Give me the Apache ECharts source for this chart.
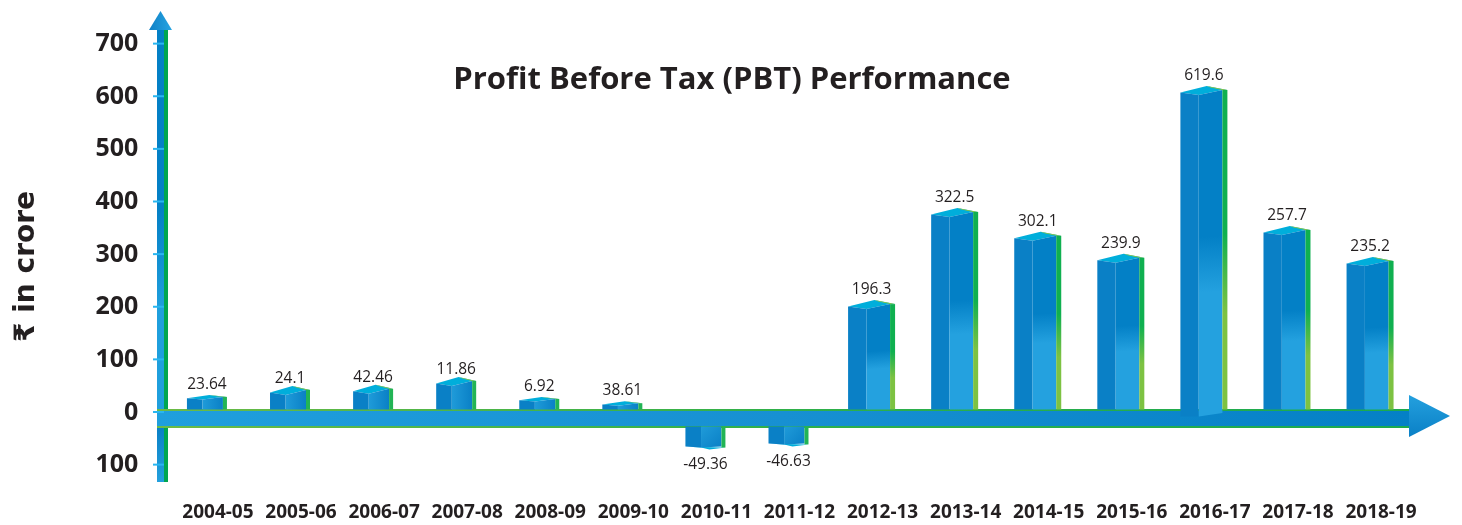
<!DOCTYPE html>
<html>
<head>
<meta charset="utf-8">
<style>html,body{margin:0;padding:0;background:#fff}#main{width:1462px;height:525px}</style>
<script src="https://cdn.jsdelivr.net/npm/echarts@6/dist/echarts.min.js"></script>
</head>
<body>
<div id="main"></div>
<script>
var years = ['2004-05','2005-06','2006-07','2007-08','2008-09','2009-10','2010-11','2011-12','2012-13','2013-14','2014-15','2015-16','2016-17','2017-18','2018-19'];
// the figures printed above the bars
var printed = ['23.64','24.1','42.46','11.86','6.92','38.61','-49.36','-46.63','196.3','322.5','302.1','239.9','619.6','257.7','235.2'];
// the heights the bars are actually drawn at, read against the left axis (they differ from the printed figures)
var heights = [27, 38, 40, 55, 23, 15, -65, -59, 201, 376, 331, 289, 608, 342, 283];
var yTicks = [-100, 0, 100, 200, 300, 400, 500, 600, 700];

var myChart = echarts.init(document.getElementById('main'));

function grad(x, y, x2, y2, stops) {
    return new echarts.graphic.LinearGradient(x, y, x2, y2, stops.map(function(s) {
        return { offset: s[0], color: s[1] };
    }));
}

function renderBar(params, api) {
    var i = api.value(0);
    var h = api.value(1);
    var top = api.coord([i, h]);
    var zero = api.coord([i, 0]);
    var wide = Math.abs(h) > 100;
    var w = wide ? 47 : 40;
    var x0 = top[0] - w / 2;
    var xm = x0 + w * 0.39;
    var xr = x0 + w - (wide ? 5 : 4);
    var xe = x0 + w;
    var kids = [];

    if (h >= 0) {
        var y = top[1];
        var b = zero[1] - 3;
        // the tallest bar runs a little way into the band
        var over = h > 500 ? 7 : 0;
        var k = h < 30 ? 0.5 : 1; // flatter cap on the shortest bars
        var peak = x0 + w * 0.56;
        // top cap
        kids.push({ type: 'polygon', shape: { points: [[x0, y], [peak, y - 6.5 * k], [xe, y - 2.5 * k], [xr, y - 2.5 * k], [xm, y + 2.5 * k]] },
            style: { fill: '#00AEDB' } });
        kids.push({ type: 'polygon', shape: { points: [[peak, y - 6.5 * k], [xe, y - 2.5 * k], [xr, y - 2.5 * k], [peak + 4, y - 5 * k]] },
            style: { fill: '#8CC63F' } });
        // left face
        kids.push({ type: 'polygon', shape: { points: [[x0, y], [xm, y + 2.5 * k], [xm, b + over], [x0, b + over]] },
            style: { fill: '#0A80C6' } });
        // right face, lighter towards the base
        kids.push({ type: 'polygon', shape: { points: [[xm, y + 2.5 * k], [xr, y - 2.5 * k], [xr, b + over / 2], [xm, b + over]] },
            style: { fill: wide ? grad(0, 0, 0.3, 1, [[0, '#0380C6'], [0.45, '#0380C6'], [0.62, '#24A1DF'], [1, '#24A1DF']])
                                : grad(0, 0, 1, 0, [[0, '#1F9BD9'], [1, '#0A80C6']]) } });
        // green side strip
        kids.push({ type: 'polygon', shape: { points: [[xr, y - 2.5 * k], [xe, y - 2.5 * k], [xe, b], [xr, b]] },
            style: { fill: wide ? grad(0, 0, 0, 1, [[0, '#0FB050'], [0.45, '#0FB050'], [0.7, '#7DC242'], [1, '#7DC242']]) : '#22B455' } });
    } else {
        var ty = zero[1] + 14;
        var by = top[1];
        // bottom edge, seen from below
        kids.push({ type: 'polygon', shape: { points: [[x0, by], [xm, by + 1], [x0 + w * 0.6, by + 3], [xe, by + 1], [xr, by + 1]] },
            style: { fill: '#00AEDB' } });
        kids.push({ type: 'polygon', shape: { points: [[x0, ty], [xm, ty], [xm, by + 1], [x0, by]] },
            style: { fill: '#0A80C6' } });
        kids.push({ type: 'polygon', shape: { points: [[xm, ty], [xr, ty], [xr, by], [xm, by + 1]] },
            style: { fill: grad(0, 0, 1, 1, [[0, '#1F9BD9'], [1, '#0A80C6']]) } });
        kids.push({ type: 'polygon', shape: { points: [[xr, ty], [xe, ty], [xe, by + 1], [xr, by + 1]] },
            style: { fill: '#22B455' } });
    }
    kids.push({
        type: 'text',
        style: {
            text: printed[i],
            x: top[0],
            y: h >= 0 ? top[1] - (wide ? 17 : 13.5) : top[1] + 18,
            align: 'center',
            verticalAlign: 'middle',
            font: '15.5px "Open Sans"',
            fill: '#231F20'
        }
    });
    return { type: 'group', children: kids };
}

var option = {
    animation: false,
    title: {
        text: 'Profit Before Tax (PBT) Performance',
        left: 727,
        top: 60,
        textAlign: 'center',
        textStyle: { fontFamily: 'Open Sans', fontWeight: 'bold', fontSize: 31, color: '#231F20' }
    },
    grid: { left: 165.4, right: 50.4, top: 44, bottom: 60 },
    xAxis: {
        type: 'category',
        data: years,
        position: 'bottom',
        axisLine: { show: false },
        axisTick: { show: false },
        axisLabel: {
            interval: 0,
            margin: 38,
            padding: [0, 0, 0, 22],
            fontFamily: 'Open Sans',
            fontWeight: 'bold',
            fontSize: 19,
            color: '#231F20'
        }
    },
    yAxis: {
        type: 'value',
        min: -100,
        max: 700,
        interval: 100,
        name: '₹ in crore',
        nameLocation: 'middle',
        nameGap: 125,
        nameRotate: 90,
        nameTextStyle: { fontFamily: 'DejaVu Sans', fontWeight: 'bold', fontSize: 28, color: '#231F20', padding: [0, 24, 0, 0] },
        splitLine: { show: false },
        axisLine: { show: false },
        axisTick: { show: false },
        axisLabel: {
            margin: 27,
            padding: [4, 0, 0, 0],
            fontFamily: 'Open Sans',
            fontWeight: 'bold',
            fontSize: 25,
            color: '#231F20',
            formatter: function(v) { return String(Math.abs(v)); }
        }
    },
    // the two arrow axes of the original are drawn as decoration
    graphic: [
        { type: 'rect', z: 1, shape: { x: 157, y: 30, width: 7, height: 452 },
          style: { fill: grad(0, 0, 0, 1, [[0, '#0480C6'], [0.4, '#0480C6'], [0.62, '#1F9FDD'], [0.88, '#1F9FDD'], [0.881, '#0A80C6'], [1, '#23A0DD']]) } },
        { type: 'rect', z: 1, shape: { x: 164, y: 30, width: 4, height: 452 }, style: { fill: '#00A651' } },
        { type: 'polygon', z: 1, shape: { points: [[160.5, 11], [172, 30], [149, 30]] },
          style: { fill: grad(0, 0, 1, 0, [[0, '#0F80C6'], [1, '#27A5E2']]) } },
        { type: 'rect', z: 1, shape: { x: 157, y: 409, width: 1252, height: 19 }, style: { fill: grad(0, 0, 1, 0, [[0, '#6CBB45'], [0.5, '#2FB04A'], [1, '#1BAA4F']]) } },
        { type: 'rect', z: 1, shape: { x: 157, y: 411, width: 1252, height: 15 }, style: { fill: grad(0, 0, 1, 0, [[0, '#1F9FDD'], [0.5, '#1790D2'], [1, '#0480C6']]) } },
        { type: 'polygon', z: 1, shape: { points: [[1409, 395], [1450, 416], [1409, 437]] },
          style: { fill: grad(0, 0, 0, 1, [[0, '#24A0DE'], [1, '#0A80C6']]) } }
    ].concat(yTicks.map(function(v) {
        return { type: 'rect', z: 2, shape: { x: 153, y: 412 - v * 0.52625 - 1, width: 11, height: 2 }, style: { fill: '#29B6F0' } };
    })),
    series: [{
        type: 'custom',
        z: 5,
        renderItem: renderBar,
        data: heights.map(function(h, i) { return [i, h]; }),
        encode: { x: 0, y: 1 }
    }]
};

myChart.setOption(option);
</script>
</body>
</html>
